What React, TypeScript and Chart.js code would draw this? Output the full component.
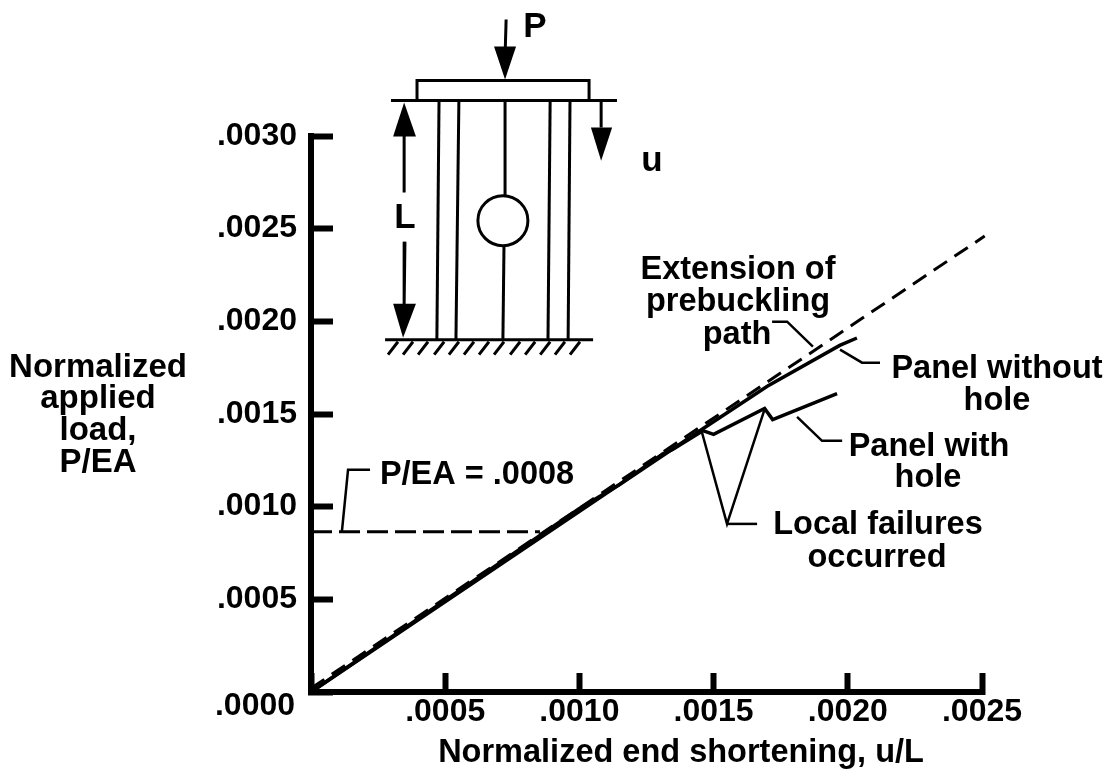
import React, { useEffect, useRef } from "react";
import { Chart, registerables } from "chart.js";

Chart.register(...registerables);

type Pt = [number, number];

// Curves (u/L, P/EA)
const panelWithoutHole: Pt[] = [[0, 0], [0.001, 0.00099], [0.00115, 0.00112], [0.00146, 0.00142], [0.0017, 0.00165], [0.00197, 0.00187], [0.002034, 0.00191]];
const panelWithHole: Pt[] = [[0, 0], [0.00115, 0.00112], [0.001311, 0.001285], [0.001349, 0.00131], [0.00146, 0.00141], [0.0015, 0.00139], [0.00169, 0.00153], [0.00172, 0.00147], [0.00196, 0.00161]];
const prebucklingExtension: Pt[] = [[0, 0.00002], [0.00251, 0.00246]];
const referenceLoad: Pt[] = [[0, 0.000864], [0.000853, 0.000864]];

// Leader lines
const leaderReference: Pt[] = [[0.000115, 0.000864], [0.000138, 0.001199], [0.00022, 0.001199]];
const leaderExtension: Pt[] = [[0.001718, 0.001998], [0.001774, 0.001998], [0.00187, 0.001863]];
const leaderWithout: Pt[] = [[0.001971, 0.001847], [0.002053, 0.001777], [0.00212, 0.001777]];
const leaderWith: Pt[] = [[0.001811, 0.001485], [0.001904, 0.001355], [0.001979, 0.001355]];
const leaderFailureA: Pt[] = [[0.001457, 0.001399], [0.00155, 0.000907], [0.001692, 0.001534]];
const leaderFailureB: Pt[] = [[0.00155, 0.000907], [0.001662, 0.000907]];

// Panel sketch, in the same axis units
const sketchPlate: Pt[] = [[0.000395, 0.003197], [0.000395, 0.003299], [0.001036, 0.003299], [0.001036, 0.003197]];
const sketchTop: Pt[] = [[0.000298, 0.003191], [0.00114, 0.003191]];
const sketchBase: Pt[] = [[0.000276, 0.001901], [0.001051, 0.001901]];
const stiffener1: Pt[] = [[0.000477, 0.003191], [0.000469, 0.001901]];
const stiffener2: Pt[] = [[0.000551, 0.003191], [0.00054, 0.001901]];
const stiffener3a: Pt[] = [[0.000723, 0.003191], [0.000723, 0.002673]];
const stiffener3b: Pt[] = [[0.000719, 0.002403], [0.000715, 0.001901]];
const stiffener4: Pt[] = [[0.000891, 0.003191], [0.000883, 0.001901]];
const stiffener5: Pt[] = [[0.000965, 0.003191], [0.000958, 0.001901]];
const arrowPShaft: Pt[] = [[0.000727, 0.003629], [0.000723, 0.003429]];
const arrowLUpper: Pt[] = [[0.000347, 0.003051], [0.000347, 0.002695]];
const arrowLLower: Pt[] = [[0.00035, 0.00243], [0.000347, 0.00209]];
const arrowUShaft: Pt[] = [[0.001081, 0.003191], [0.001081, 0.003046]];
const hatchTopX = [0.000324, 0.00038, 0.000436, 0.000496, 0.000551, 0.000607, 0.000663, 0.000719, 0.000779, 0.000835, 0.000891, 0.000946, 0.001002];
const hatchLowX = [0.000287, 0.000343, 0.000399, 0.000459, 0.000514, 0.00057, 0.000626, 0.000682, 0.000742, 0.000798, 0.000854, 0.000909, 0.000965];
const hatchTopY = 0.00189;
const hatchLowY = 0.00182;
const holeCentre: Pt[] = [[0.000715, 0.002543]];
const arrowHeads: Pt[][] = [
  [[0.000723, 0.003305], [0.000682, 0.003483], [0.000764, 0.003483]],
  [[0.000347, 0.003181], [0.000306, 0.002997], [0.000391, 0.002997]],
  [[0.000343, 0.001912], [0.000306, 0.002095], [0.000391, 0.002095]],
  [[0.001081, 0.002867], [0.001043, 0.003046], [0.001122, 0.003046]],
];

const xTicks = [".0005", ".0010", ".0015", ".0020", ".0025"];
const yTicks = [".0005", ".0010", ".0015", ".0020", ".0025", ".0030"];

const FONT = '"Liberation Sans", Arial, sans-serif';
const notes: [string, number, number, number][] = [
  [".0000", 255, 706, 32],
  ["P/EA = .0008", 477, 475, 32.5],
  ["Normalized", 98, 368, 33],
  ["applied", 98, 399, 33],
  ["load,", 98, 431, 33],
  ["P/EA", 98, 463, 33],
  ["Extension of", 738, 270, 32.5],
  ["prebuckling", 738, 302, 32.5],
  ["path", 737, 335, 32.5],
  ["Panel without", 997, 369, 32.5],
  ["hole", 997, 401, 32.5],
  ["Panel with", 929, 447, 32.5],
  ["hole", 928, 478, 32.5],
  ["Local failures", 878, 525, 32.5],
  ["occurred", 877, 558, 32.5],
  ["P", 535, 27, 35],
  ["u", 652, 161, 35],
  ["L", 405, 218, 35],
  ["Normalized end shortening, u/L", 681, 753, 32.5],
];

const toPoints = (pts: Pt[]) => pts.map(([x, y]) => ({ x, y }));
const line = (pts: Pt[], borderWidth: number, borderDash: number[] = []) => ({
  data: toPoints(pts),
  showLine: true,
  borderColor: "#000",
  borderWidth,
  borderDash,
  pointRadius: 0,
  clip: false as const,
  tension: 0,
});

const annotations = {
  id: "annotations",
  afterDatasetsDraw(chart: any) {
    const { ctx, scales } = chart;
    ctx.save();
    ctx.fillStyle = "#000";
    for (const head of arrowHeads) {
      ctx.beginPath();
      head.forEach(([x, y], i) => {
        const px = scales.x.getPixelForValue(x);
        const py = scales.y.getPixelForValue(y);
        if (i === 0) ctx.moveTo(px, py);
        else ctx.lineTo(px, py);
      });
      ctx.closePath();
      ctx.fill();
    }
    ctx.textAlign = "center";
    ctx.textBaseline = "middle";
    for (const [text, x, y, size] of notes) {
      ctx.font = `bold ${size}px ${FONT}`;
      ctx.fillText(text, x, y);
    }
    ctx.restore();
  },
};

export default function App() {
  const ref = useRef<HTMLCanvasElement>(null);
  useEffect(() => {
    if (!ref.current) return;
    const hatch: Pt[] = [];
    hatchTopX.forEach((x, i) => {
      hatch.push([hatchLowX[i], hatchLowY], [x, hatchTopY], [NaN, NaN]);
    });
    const chart = new Chart(ref.current, {
      type: "scatter",
      data: {
        datasets: [
          { ...line(holeCentre, 3), pointRadius: 25, pointBackgroundColor: "#fff", pointBorderColor: "#000", pointBorderWidth: 3, showLine: false },
          line(panelWithoutHole, 3.5),
          line(panelWithHole, 3.5),
          line(prebucklingExtension, 3, [16, 9]),
          line(referenceLoad, 3, [21, 7]),
          line(leaderReference, 2.5),
          line(leaderExtension, 2.5),
          line(leaderWithout, 2.5),
          line(leaderWith, 2.5),
          line(leaderFailureA, 2.5),
          line(leaderFailureB, 2.5),
          line(sketchPlate, 3),
          line(sketchTop, 3),
          line(sketchBase, 3),
          line(stiffener1, 3),
          line(stiffener2, 3),
          line(stiffener3a, 3),
          line(stiffener3b, 3),
          line(stiffener4, 3),
          line(stiffener5, 3),
          line(arrowPShaft, 3),
          line(arrowLUpper, 3),
          line(arrowLLower, 3),
          line(arrowUShaft, 3),
          line(hatch, 3),
        ] as any,
      },
      options: {
        responsive: false,
        animation: false,
        layout: { padding: { left: 0, top: 136, right: 133, bottom: 0 } },
        plugins: { legend: { display: false }, tooltip: { enabled: false } },
        scales: {
          x: {
            type: "linear",
            min: 0,
            max: 0.0025,
            afterFit: (s: any) => { s.height = 85; },
            border: { color: "#000", width: 6 },
            grid: { drawOnChartArea: false, drawTicks: true, tickLength: -19, tickWidth: 6, tickColor: "#000" },
            ticks: {
              stepSize: 0.0005,
              padding: 20,
              maxRotation: 0,
              autoSkip: false,
              color: "#000",
              font: { family: FONT, weight: "bold", size: 32 },
              callback: (_v: any, i: number) => (i === 0 ? "" : xTicks[i - 1]),
            },
          },
          y: {
            type: "linear",
            min: 0,
            max: 0.003,
            afterFit: (s: any) => { s.width = 311; },
            border: { color: "#000", width: 6 },
            grid: { drawOnChartArea: false, drawTicks: true, tickLength: -22, tickWidth: 6, tickColor: "#000" },
            ticks: {
              stepSize: 0.0005,
              padding: 36,
              autoSkip: false,
              color: "#000",
              font: { family: FONT, weight: "bold", size: 32 },
              callback: (_v: any, i: number) => (i === 0 ? "" : yTicks[i - 1]),
            },
          },
        },
      },
      plugins: [annotations],
    } as any);
    return () => chart.destroy();
  }, []);
  return <canvas ref={ref} width={1115} height={777} style={{ position: "absolute", left: 0, top: 0, width: 1115, height: 777 }} />;
}
